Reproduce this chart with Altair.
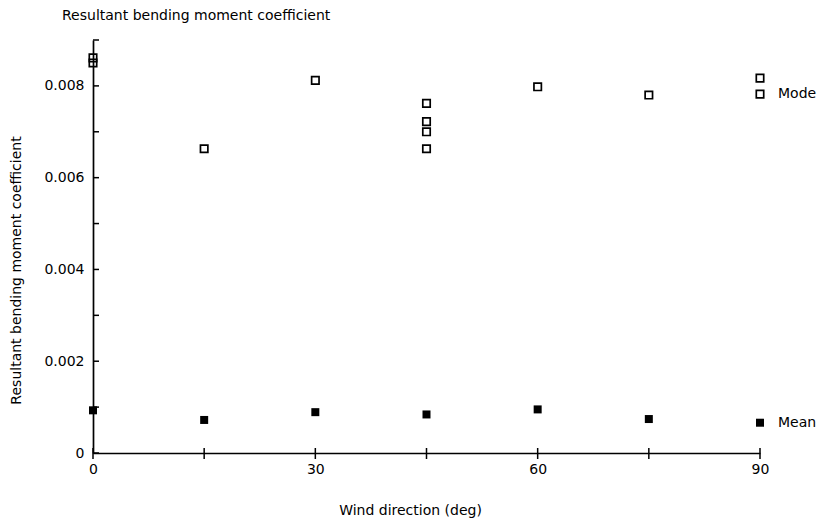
import altair as alt
import pandas as pd

# Peak (mode) and mean resultant bending moment coefficients by wind direction
direction_mode = [0, 0, 15, 30, 45, 45, 45, 45, 60, 75, 90, 90]
coef_mode = [0.00861, 0.00850, 0.00663, 0.00812, 0.00762, 0.00722, 0.00700,
             0.00663, 0.00798, 0.00780, 0.00817, 0.00782]

direction_mean = [0, 15, 30, 45, 60, 75, 90]
coef_mean = [0.00093, 0.00072, 0.00089, 0.00084, 0.00095, 0.00074, 0.00066]

# Series labels placed beside the right-most marker of each series
label_names = ["Mode", "Mean"]
label_x = [90, 90]
label_y = [0.00782, 0.00066]

# Tick positions and labelled values
x_ticks = [0, 15, 30, 45, 60, 75, 90]
x_labels = [0, 30, 60, 90]
y_ticks = [0, 0.001, 0.002, 0.003, 0.004, 0.005, 0.006, 0.007, 0.008, 0.009]
y_labels = [0, 0.002, 0.004, 0.006, 0.008]

W, H = 667, 413
FONT = "DejaVu Sans"

mode_df = pd.DataFrame({"dir": direction_mode, "coef": coef_mode})
mean_df = pd.DataFrame({"dir": direction_mean, "coef": coef_mean})
label_df = pd.DataFrame({"name": label_names, "dir": label_x, "coef": label_y})
xt_df = pd.DataFrame({"dir": x_ticks})
yt_df = pd.DataFrame({"coef": y_ticks})

x_scale = alt.Scale(domain=[0, 90], nice=False, zero=False)
y_scale = alt.Scale(domain=[0, 0.009], nice=False, zero=False)

x_axis = alt.Axis(
    values=x_labels, format="d", title="Wind direction (deg)",
    ticks=False, grid=False, domainColor="black", domainWidth=1.7,
    labelFlush=False, labelOverlap=False,
    labelPadding=9, labelFontSize=14, labelFont=FONT, labelColor="black",
    titleFont=FONT, titleFontSize=14, titleFontWeight="normal", titleColor="black",
    titleX=317, titleY=57, titleBaseline="middle", titleAnchor="middle",
)
y_axis = alt.Axis(
    values=y_labels, title="Resultant bending moment coefficient",
    labelExpr="datum.value == 0 ? '0' : format(datum.value, '.3f')",
    labelFlush=False, labelOverlap=False,
    ticks=False, grid=False, domainColor="black", domainWidth=1.7,
    labelPadding=9, labelFontSize=14, labelFont=FONT, labelColor="black",
    titleFont=FONT, titleFontSize=14, titleFontWeight="normal", titleColor="black",
    titleX=-77, titleY=230, titleBaseline="middle", titleAnchor="middle",
)

X = alt.X("dir:Q", scale=x_scale, axis=x_axis)
Y = alt.Y("coef:Q", scale=y_scale, axis=y_axis)

mode_layer = alt.Chart(mode_df).mark_point(
    shape="square", filled=False, size=55, strokeWidth=1.7, color="black", opacity=1
).encode(x=X, y=Y)

mean_layer = alt.Chart(mean_df).mark_square(size=64, color="black", opacity=1).encode(
    x=X, y=Y
)

labels = alt.Chart(label_df).mark_text(
    align="left", baseline="middle", dx=18, fontSize=14, font=FONT, color="black"
).encode(x=X, y=Y, text="name:N")

# Inward ticks on the vertical axis
y_tick_marks = alt.Chart(yt_df).mark_rule(color="black", strokeWidth=1.5).encode(
    y=Y,
    x=alt.value(0),
    x2=alt.value(6),
)

# Ticks crossing the horizontal axis
x_tick_marks = alt.Chart(xt_df).mark_rule(color="black", strokeWidth=1.5).encode(
    x=X,
    y=alt.value(H - 5),
    y2=alt.value(H + 6),
)

chart = alt.layer(
    y_tick_marks, x_tick_marks, mode_layer, mean_layer, labels
).properties(
    width=W,
    height=H,
    title=alt.Title(
        "Resultant bending moment coefficient",
        anchor="start", frame="group", dx=-31, offset=16,
        fontSize=14, fontWeight="normal", font=FONT, color="black",
    ),
    autosize=alt.AutoSizeParams(type="none"),
    padding={"left": 93, "top": 40, "right": 65, "bottom": 68},
).configure(background="white").configure_view(stroke=None)

chart.save("out.html", embed_options={"renderer": "svg", "actions": False})
